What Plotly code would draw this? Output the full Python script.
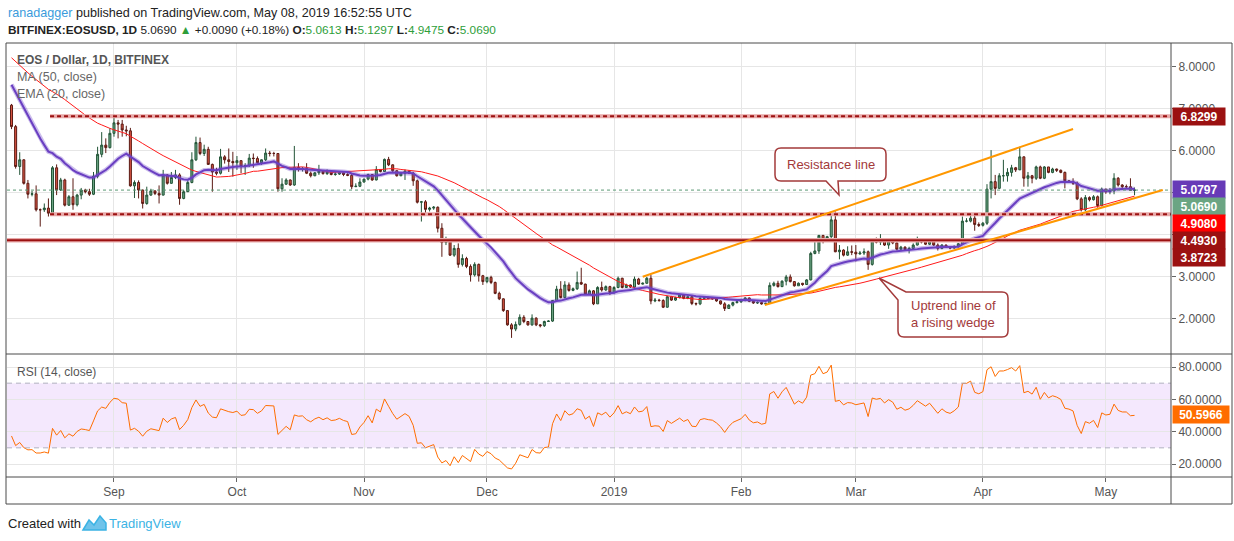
import numpy as np
import pandas as pd
import plotly.graph_objects as go

# EOS/USD daily candles (Bitfinex), 7 Aug 2018 - 8 May 2019
first_open = 7.09
close = [
    6.58, 5.63, 5.79, 5.23, 4.97, 4.98, 4.60, 4.60, 4.64, 4.52,
    5.60, 5.07, 5.31, 4.71, 4.91, 4.72, 4.95, 5.07, 5.03, 4.97,
    5.40, 5.92, 6.14, 6.08, 6.42, 6.67, 6.64, 6.50, 6.48, 5.17,
    5.25, 5.07, 4.75, 4.95, 5.05, 4.99, 4.95, 5.43, 5.23, 5.37,
    5.43, 4.87, 5.03, 5.25, 5.79, 6.20, 5.94, 6.04, 5.68, 5.50,
    5.47, 5.86, 5.79, 5.75, 5.72, 5.77, 5.63, 5.65, 5.83, 5.82,
    5.72, 5.79, 5.95, 5.94, 5.94, 5.10, 5.21, 5.31, 5.19, 5.61,
    5.57, 5.58, 5.47, 5.41, 5.48, 5.52, 5.46, 5.50, 5.44, 5.45,
    5.48, 5.44, 5.42, 5.15, 5.16, 5.26, 5.33, 5.44, 5.31, 5.56,
    5.51, 5.80, 5.67, 5.53, 5.41, 5.47, 5.52, 5.47, 5.29, 4.78,
    4.79, 4.61, 4.64, 4.66, 4.16, 3.82, 3.86, 3.52, 3.68, 3.30,
    3.44, 3.25, 3.05, 3.30, 3.03, 2.89, 2.99, 2.87, 2.61, 2.48,
    2.20, 1.86, 1.76, 1.87, 2.04, 1.94, 1.86, 2.02, 1.86, 1.84,
    1.94, 1.95, 2.44, 2.71, 2.51, 2.81, 2.68, 2.72, 2.87, 2.83,
    2.59, 2.67, 2.36, 2.75, 2.69, 2.77, 2.63, 2.75, 2.97, 2.75,
    2.81, 2.76, 2.95, 2.83, 2.85, 2.97, 2.43, 2.45, 2.44, 2.28,
    2.53, 2.45, 2.51, 2.57, 2.49, 2.53, 2.37, 2.36, 2.49, 2.51,
    2.49, 2.48, 2.43, 2.36, 2.25, 2.33, 2.39, 2.41, 2.44, 2.50,
    2.42, 2.38, 2.39, 2.36, 2.37, 2.80, 2.85, 2.77, 2.90, 3.00,
    2.89, 2.79, 2.85, 2.82, 2.93, 3.56, 3.62, 3.99, 3.88, 3.96,
    4.36, 3.60, 3.64, 3.52, 3.60, 3.59, 3.55, 3.57, 3.60, 3.30,
    3.86, 3.83, 3.86, 3.76, 3.86, 3.81, 3.66, 3.71, 3.65, 3.68,
    3.76, 3.87, 3.83, 3.78, 3.84, 3.76, 3.68, 3.76, 3.71, 3.69,
    3.73, 3.79, 4.33, 4.33, 4.40, 4.25, 4.23, 4.28, 5.09, 5.27,
    5.11, 5.41, 5.41, 5.49, 5.60, 5.55, 5.86, 5.35, 5.41, 5.35,
    5.62, 5.35, 5.62, 5.49, 5.57, 5.54, 5.49, 5.29, 5.27, 5.23,
    4.86, 4.60, 4.89, 4.84, 4.91, 4.70, 5.09, 5.03, 5.05, 5.35,
    5.19, 5.15, 5.15, 5.0613, 5.069,
]
high = [
    7.12, 6.62, 5.97, 5.80, 5.31, 5.05, 5.18, 4.63, 4.75, 4.87,
    5.64, 5.68, 5.36, 5.34, 4.95, 5.35, 4.98, 5.12, 5.10, 5.10,
    5.50, 6.10, 6.45, 6.30, 6.54, 6.87, 6.74, 6.74, 6.60, 6.55,
    5.30, 5.30, 5.08, 5.15, 5.10, 5.06, 5.18, 5.55, 5.45, 5.50,
    5.55, 5.47, 5.07, 5.30, 5.97, 6.34, 6.32, 6.15, 6.10, 5.70,
    5.60, 6.05, 5.90, 6.06, 5.98, 5.88, 5.77, 5.71, 5.93, 5.94,
    5.87, 5.80, 6.06, 6.00, 5.98, 5.95, 5.35, 5.35, 5.32, 6.12,
    5.71, 5.62, 5.71, 5.51, 5.50, 5.67, 5.54, 5.56, 5.52, 5.51,
    5.50, 5.50, 5.47, 5.45, 5.23, 5.35, 5.34, 5.46, 5.44, 5.64,
    5.57, 5.82, 5.86, 5.68, 5.55, 5.48, 5.56, 5.53, 5.50, 5.32,
    4.81, 4.83, 4.67, 4.69, 4.68, 4.28, 3.96, 3.92, 3.76, 3.80,
    3.54, 3.48, 3.30, 3.35, 3.32, 3.05, 3.00, 3.03, 2.89, 2.65,
    2.49, 2.21, 1.90, 1.94, 2.11, 2.09, 1.95, 2.11, 2.04, 1.88,
    1.96, 1.97, 2.45, 2.79, 2.90, 2.90, 2.87, 2.75, 3.13, 3.22,
    2.84, 2.70, 2.69, 2.78, 2.89, 2.80, 2.79, 2.78, 3.01, 2.98,
    2.84, 2.82, 3.01, 2.98, 2.87, 3.00, 3.05, 2.50, 2.48, 2.47,
    2.55, 2.55, 2.53, 2.60, 2.58, 2.56, 2.57, 2.39, 2.52, 2.53,
    2.53, 2.52, 2.50, 2.44, 2.40, 2.35, 2.41, 2.44, 2.48, 2.52,
    2.51, 2.44, 2.42, 2.41, 2.39, 2.87, 2.89, 2.91, 2.92, 3.05,
    3.06, 2.90, 2.87, 2.86, 2.95, 3.60, 3.88, 4.00, 4.00, 3.98,
    4.49, 4.56, 3.76, 3.66, 3.73, 3.75, 3.76, 3.62, 3.68, 3.63,
    3.88, 3.94, 4.02, 3.87, 3.92, 3.88, 3.82, 3.74, 3.73, 3.72,
    3.80, 3.96, 3.90, 3.85, 3.86, 3.85, 3.80, 3.78, 3.77, 3.73,
    3.75, 3.81, 4.44, 4.40, 4.49, 4.48, 4.30, 4.31, 5.21, 6.02,
    5.43, 5.47, 5.79, 5.59, 5.67, 5.62, 6.10, 5.87, 5.50, 5.43,
    5.65, 5.65, 5.64, 5.62, 5.60, 5.58, 5.56, 5.51, 5.30, 5.35,
    5.27, 4.90, 4.95, 4.92, 4.95, 4.94, 5.13, 5.10, 5.12, 5.47,
    5.38, 5.21, 5.20, 5.35, 5.1297,
]
low = [
    6.52, 5.58, 5.43, 5.20, 4.87, 4.92, 4.56, 4.20, 4.55, 4.44,
    4.50, 4.95, 5.05, 4.68, 4.69, 4.60, 4.68, 4.85, 4.99, 4.93,
    4.95, 5.35, 5.85, 5.95, 6.06, 6.34, 6.30, 6.34, 6.35, 5.15,
    4.88, 4.87, 4.63, 4.72, 4.93, 4.95, 4.75, 4.94, 5.20, 5.22,
    5.33, 4.72, 4.85, 5.05, 5.23, 5.76, 5.90, 5.88, 5.67, 5.03,
    5.42, 5.44, 5.70, 5.50, 5.39, 5.55, 5.47, 5.43, 5.62, 5.60,
    5.70, 5.67, 5.76, 5.87, 5.87, 5.03, 5.03, 5.19, 5.17, 5.17,
    5.51, 5.51, 5.45, 5.37, 5.40, 5.43, 5.44, 5.43, 5.42, 5.41,
    5.43, 5.40, 5.40, 5.09, 5.14, 5.14, 5.25, 5.30, 5.29, 5.30,
    5.49, 5.50, 5.64, 5.50, 5.39, 5.40, 5.31, 5.45, 5.17, 4.75,
    4.32, 4.52, 4.56, 4.60, 4.06, 3.48, 3.76, 3.50, 3.48, 3.22,
    3.25, 3.21, 2.89, 3.01, 2.89, 2.81, 2.85, 2.83, 2.59, 2.45,
    2.17, 1.84, 1.55, 1.71, 1.84, 1.90, 1.84, 1.84, 1.83, 1.80,
    1.81, 1.93, 1.93, 2.43, 2.49, 2.49, 2.65, 2.66, 2.69, 2.81,
    2.57, 2.58, 2.33, 2.36, 2.65, 2.67, 2.57, 2.60, 2.73, 2.73,
    2.74, 2.74, 2.73, 2.81, 2.82, 2.84, 2.35, 2.40, 2.41, 2.26,
    2.27, 2.43, 2.43, 2.49, 2.47, 2.47, 2.33, 2.32, 2.33, 2.46,
    2.47, 2.46, 2.41, 2.34, 2.19, 2.24, 2.30, 2.37, 2.38, 2.42,
    2.40, 2.36, 2.36, 2.34, 2.34, 2.36, 2.77, 2.75, 2.76, 2.80,
    2.87, 2.77, 2.79, 2.79, 2.81, 2.92, 3.54, 3.55, 3.80, 3.86,
    3.93, 3.59, 3.42, 3.49, 3.50, 3.52, 3.37, 3.53, 3.52, 3.17,
    3.27, 3.80, 3.76, 3.74, 3.67, 3.78, 3.63, 3.64, 3.62, 3.56,
    3.65, 3.75, 3.80, 3.76, 3.76, 3.74, 3.63, 3.66, 3.69, 3.66,
    3.67, 3.70, 3.78, 4.30, 4.30, 4.10, 4.19, 4.20, 4.24, 4.87,
    4.95, 5.11, 5.27, 5.27, 5.39, 5.50, 5.55, 5.15, 5.15, 5.23,
    5.31, 5.33, 5.33, 5.47, 5.47, 5.50, 5.47, 5.11, 5.24, 5.19,
    4.83, 4.56, 4.57, 4.80, 4.82, 4.65, 4.68, 4.98, 4.97, 4.97,
    5.15, 5.09, 5.10, 5.05, 4.9475,
]

# closes before the visible window (19 Jun - 6 Aug 2018), estimated from
# where MA(50), EMA(20) and RSI(14) enter the chart on the left edge
warmup_close = [
    10.3, 10.0, 9.4, 9.8, 9.2, 8.6, 8.9, 8.4, 8.0, 8.3, 7.8, 8.5,
    8.2, 8.8, 8.5, 8.9, 8.3, 8.7, 8.4, 8.9, 8.6,
    8.2, 8.5, 8.1, 8.4, 8.0, 8.3, 7.9, 8.2,
    7.8, 8.2, 7.8, 8.1, 7.7,
    8.1, 7.7, 8.2, 7.8, 8.1, 7.6, 7.9, 7.5,
    7.9, 7.4, 7.7,
    7.2, 7.5, 7.0, 7.09,
]

# horizontal levels and last values shown on the price scale
dashed_levels = [6.8299, 4.4930]
dashed_start = '2018-08-16 09:30'
solid_level = 3.8723
ma50_last = 4.9080
ema20_last = 5.0797
rsi_last = 50.5966
last_close = 5.0690

# drawn trend lines: (date, price) anchors
resistance_line = [('2019-01-08 00:00', 3.007), ('2019-04-23 00:00', 6.524)]
uptrend_line = [('2019-02-06 19:00', 2.333), ('2019-05-14 21:30', 5.071)]

month_ticks = ['2018-09-01', '2018-10-01', '2018-11-01', '2018-12-01', '2019-01-01',
               '2019-02-01', '2019-03-01', '2019-04-01', '2019-05-01']
month_labels = ['Sep', 'Oct', 'Nov', 'Dec', '2019', 'Feb', 'Mar', 'Apr', 'May']
price_ticks = [2, 3, 4, 5, 6, 7, 8]
price_hidden = [4, 5]          # covered by the value labels in the original
rsi_ticks = [20, 40, 60, 80]

x_range = ['2018-08-05 21:30', '2019-05-16 21:30']

n = len(close)
assert len(high) == n and len(low) == n
dates = pd.date_range('2018-08-07', periods=n, freq='D')
opens = [first_open] + close[:-1]

# indicators
allc = pd.Series(warmup_close + close, dtype=float)
ma50 = allc.rolling(50).mean().iloc[-n:].values
ema20 = allc.ewm(span=20, adjust=False).mean().iloc[-n:].values
d = allc.diff()
up = d.clip(lower=0).ewm(alpha=1 / 14, adjust=False).mean()
dn = (-d.clip(upper=0)).ewm(alpha=1 / 14, adjust=False).mean()
rsi = (100 - 100 / (1 + up / dn)).iloc[-n:].values

# pixel -> paper helpers (plot area spans x 7..1171, y 43..477)
L, R, T, B = 7, 1171, 43, 477


def px(x, y):
    return (x - L) / (R - L), (B - y) / (B - T)


def path_px(cmds):
    out = []
    for c in cmds:
        if isinstance(c, str):
            out.append(c)
        else:
            xx, yy = px(*c)
            out.append(f'{xx:.5f},{yy:.5f}')
    return ' '.join(out)


FONT = 'Liberation Sans, Arial, DejaVu Sans'
GRID = '#e6e6e6'
DARKRED = '#9b1111'

fig = go.Figure()

fig.add_trace(go.Candlestick(
    x=dates, open=opens, high=high, low=low, close=close,
    increasing=dict(line=dict(color='#225437', width=1), fillcolor='#6ba583'),
    decreasing=dict(line=dict(color='#5b1a13', width=1), fillcolor='#d75442'),
    whiskerwidth=0, xaxis='x', yaxis='y', hoverinfo='skip'))

fig.add_trace(go.Scatter(x=dates, y=ma50, mode='lines',
                         line=dict(color='#ff1a1a', width=1), xaxis='x', yaxis='y'))
fig.add_trace(go.Scatter(x=dates, y=ema20, mode='lines',
                         line=dict(color='rgba(110,70,200,0.35)', width=4.5), xaxis='x', yaxis='y'))
fig.add_trace(go.Scatter(x=dates, y=ema20, mode='lines',
                         line=dict(color='#6a3fc2', width=2), xaxis='x', yaxis='y'))

# last price line
fig.add_trace(go.Scatter(x=x_range, y=[last_close, last_close], mode='lines',
                         line=dict(color='#5c9a76', width=1, dash='dot'), xaxis='x', yaxis='y'))

for lv in dashed_levels:
    fig.add_trace(go.Scatter(x=[dashed_start, x_range[1]], y=[lv, lv], mode='lines',
                             line=dict(color='#e8a9a9', width=4), xaxis='x', yaxis='y'))
    fig.add_trace(go.Scatter(x=[dashed_start, x_range[1]], y=[lv, lv], mode='lines',
                             line=dict(color=DARKRED, width=2, dash='4px,3px'), xaxis='x', yaxis='y'))
fig.add_trace(go.Scatter(x=x_range, y=[solid_level, solid_level], mode='lines',
                         line=dict(color='#e8a9a9', width=4.5), xaxis='x', yaxis='y'))
fig.add_trace(go.Scatter(x=x_range, y=[solid_level, solid_level], mode='lines',
                         line=dict(color=DARKRED, width=2), xaxis='x', yaxis='y'))

for ln in (resistance_line, uptrend_line):
    fig.add_trace(go.Scatter(x=[p[0] for p in ln], y=[p[1] for p in ln], mode='lines',
                             line=dict(color='#ff9800', width=2), xaxis='x', yaxis='y'))

fig.add_trace(go.Scatter(x=dates, y=rsi, mode='lines',
                         line=dict(color='#ff6d00', width=1), xaxis='x2', yaxis='y2'))

shapes = [
    dict(type='rect', xref='paper', yref='y2', x0=0, x1=1, y0=30, y1=70,
         fillcolor='#f4e8fd', line=dict(width=0), layer='below'),
]
for lv in (70, 30):
    shapes.append(dict(type='line', xref='paper', yref='y2', x0=0, x1=1, y0=lv, y1=lv,
                       line=dict(color='#b0b0c0', width=1, dash='5px,4px')))

# frame
FR = '#4a4a4a'
for (x0, y0, x1, y1) in [(6, 43, 1232, 43), (6, 504, 1232, 504), (6, 43, 6, 504),
                         (1232, 43, 1232, 504), (1171, 43, 1171, 504),
                         (6, 354, 1232, 354), (6, 477, 1232, 477)]:
    a = px(x0, y0)
    b = px(x1, y1)
    shapes.append(dict(type='line', xref='paper', yref='paper', x0=a[0], y0=a[1], x1=b[0], y1=b[1],
                       line=dict(color=FR, width=1), layer='above'))

# callouts
CALL = '#a33a3a'
box1 = ['M', (781, 148), 'L', (880, 148), 'Q', (886, 148), (886, 154), 'L', (886, 175),
        'Q', (886, 181), (880, 181), 'L', (838, 181), 'L', (839, 195), 'L', (826, 181),
        'L', (781, 181), 'Q', (775, 181), (775, 175), 'L', (775, 154), 'Q', (775, 148), (781, 148), 'Z']
box2 = ['M', (906, 292), 'L', (1002, 292), 'Q', (1008, 292), (1008, 298), 'L', (1008, 331),
        'Q', (1008, 337), (1002, 337), 'L', (904, 337), 'Q', (898, 337), (898, 331),
        'L', (898, 300), 'L', (879, 278), 'Z']
for bx in (box1, box2):
    shapes.append(dict(type='path', xref='paper', yref='paper', path=path_px(bx),
                       fillcolor='rgba(255,255,255,0.95)', line=dict(color=CALL, width=1.5),
                       layer='above'))

# TradingView logo (small cloud/chart mark)
logo = ['M', (83, 530), 'L', (89, 520), 'L', (94, 525), 'L', (100, 516), 'L', (106, 523),
        'L', (106, 530), 'Z']
shapes.append(dict(type='path', xref='paper', yref='paper', path=path_px(logo),
                   fillcolor='#6fc3ea', line=dict(color='#3bb3e4', width=1.5)))

ann = []


def text(x, y, s, size=13, color='#333', xanchor='left', **kw):
    xx, yy = px(x, y)
    ann.append(dict(xref='paper', yref='paper', x=xx, y=yy, text=s, showarrow=False,
                    xanchor=xanchor, yanchor='middle',
                    font=dict(family=FONT, size=size, color=color), **kw))


G = '#2e9e3a'
text(6, 13, "<span style='color:#3a9bdc'>ranadagger</span> published on TradingView.com, "
            "May 08, 2019 16:52:55 UTC", size=12.6, color='#222')
text(6, 30, "<b>BITFINEX:EOSUSD, 1D</b> 5.0690 <span style='color:%s'>▲</span> +0.0090 (+0.18%%) "
            "<b>O:</b><span style='color:%s'>5.0613</span> <b>H:</b><span style='color:%s'>5.1297</span> "
            "<b>L:</b><span style='color:%s'>4.9475</span> <b>C:</b><span style='color:%s'>5.0690</span>"
     % (G, G, G, G, G), size=11.8, color='#222')
text(15, 60, '<b>EOS / Dollar, 1D, BITFINEX</b>', size=12, color='#555')
text(15, 77, 'MA (50, close)', size=12.5, color='#666')
text(15, 94, 'EMA (20, close)', size=12.5, color='#666')
text(15, 372, 'RSI (14, close)', size=12, color='#555')
text(6, 523, 'Created with', size=13, color='#222')
text(107, 523, 'TradingView', size=13, color='#3bb3e4')
text(830.5, 164.5, 'Resistance line', size=13, color=CALL, xanchor='center')
text(909, 313.5, 'Uptrend line of<br>a rising wedge', size=13, color=CALL, align='left')

# price-scale value labels, stacked so they do not overlap
label_h = 17 / 42.0
scale_labels = [(dashed_levels[0], DARKRED), (ema20_last, '#673ab7'), (last_close, '#6ba583'),
                (ma50_last, '#ff0000'), (dashed_levels[1], DARKRED), (solid_level, DARKRED)]
prev = None
for val, col in scale_labels:
    yv = val if prev is None else min(val, prev - label_h)
    prev = yv
    ann.append(dict(xref='paper', yref='y', x=1, y=yv, xanchor='left', yanchor='middle', xshift=1,
                    text='<b>%.4f</b>' % val, showarrow=False, bgcolor=col, width=50, height=15,
                    font=dict(family=FONT, size=12, color='white')))
ann.append(dict(xref='paper', yref='y2', x=1, y=rsi_last, xanchor='left', yanchor='middle', xshift=1,
                text='<b>%.4f</b>' % rsi_last, showarrow=False, bgcolor='#ff6d00', width=54, height=15,
                font=dict(family=FONT, size=12, color='white')))

axis_font = dict(family=FONT, size=12, color='#555')
fig.update_layout(
    width=1234, height=541, autosize=False,
    margin=dict(l=L, r=1234 - R, t=T, b=541 - B, pad=0),
    paper_bgcolor='white', plot_bgcolor='white', showlegend=False,
    shapes=shapes, annotations=ann,
    xaxis=dict(domain=[0, 1], anchor='y', type='date', range=x_range, tickvals=month_ticks,
               showticklabels=False, showgrid=True, gridcolor=GRID, zeroline=False,
               rangeslider=dict(visible=False), fixedrange=True),
    xaxis2=dict(domain=[0, 1], anchor='y2', type='date', range=x_range, matches='x',
                tickvals=month_ticks, ticktext=month_labels, showgrid=True, gridcolor=GRID,
                ticks='outside', ticklen=4, tickcolor='#666', tickfont=axis_font, zeroline=False),
    yaxis=dict(domain=[(B - 353) / (B - T), 1], anchor='x', side='right', range=[1.19, 8.571],
               tickvals=price_ticks,
               ticktext=['' if v in price_hidden else '%.4f' % v for v in price_ticks],
               showgrid=True, gridcolor=GRID, zeroline=False, ticks='outside', ticklen=4,
               tickcolor='#666', tickfont=axis_font),
    yaxis2=dict(domain=[0, (B - 355) / (B - T)], anchor='x2', side='right', range=[11.96, 87.42],
                tickvals=rsi_ticks, ticktext=['%.4f' % v for v in rsi_ticks],
                showgrid=True, gridcolor=GRID, zeroline=False, ticks='outside', ticklen=4,
                tickcolor='#666', tickfont=axis_font),
)

fig.write_html('out.html', config={'displayModeBar': False},
               post_script="document.body.style.margin='0';")
